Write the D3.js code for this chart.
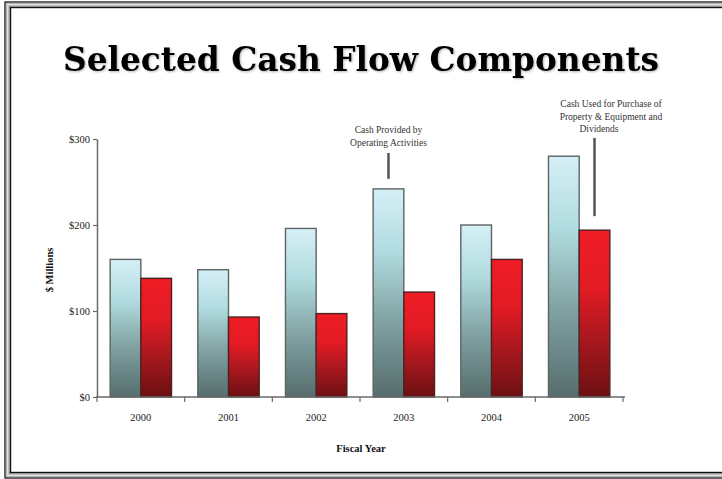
<!DOCTYPE html>
<html><head><meta charset="utf-8">
<script src="https://cdn.jsdelivr.net/npm/d3@7/dist/d3.min.js"></script>
<style>html,body{margin:0;padding:0;background:#fff;}svg{display:block;}</style>
</head><body>
<svg id="chart" width="722" height="479"></svg>
<script>
const years = ["2000","2001","2002","2003","2004","2005"];
const operating = [160, 148, 196, 242, 200, 280];
const capexDividends = [138, 93, 97, 122, 160, 194];
const yTicks = [0, 100, 200, 300];
const yTickLabels = ["$0", "$100", "$200", "$300"];
const title = "Selected Cash Flow Components";
const xTitle = "Fiscal Year";
const yTitle = "$ Millions";
const noteOperating = ["Cash Provided by", "Operating Activities"];
const noteCapex = ["Cash Used for Purchase of", "Property & Equipment and", "Dividends"];

const svg = d3.select("#chart");
const W = 722, H = 479;
svg.append("rect").attr("width", W).attr("height", H).attr("fill", "#fff");

// frame
const frame = [
  {o:0, c:"#111", w:1.3}, {o:1.6, c:"#b0b0b0", w:1.4}, {o:3, c:"#e0e0e0", w:1},
  {o:4.2, c:"#777", w:1.2}, {o:5.6, c:"#111", w:1.2}
];
frame.forEach(f => {
  svg.append("rect").attr("x", 5 + f.o).attr("y", 2 + f.o)
    .attr("width", 730 - 2*f.o).attr("height", 476 - 2*f.o)
    .attr("fill", "none").attr("stroke", f.c).attr("stroke-width", f.w);
});

const defs = svg.append("defs");
const gB = defs.append("linearGradient").attr("id","gBlue").attr("x1",0).attr("y1",0).attr("x2",0).attr("y2",1);
[[0,"#d6eff7"],[0.3,"#b0dcdf"],[0.65,"#7f9fa0"],[1,"#566d6d"]].forEach(s=>gB.append("stop").attr("offset",s[0]).attr("stop-color",s[1]));
const gR = defs.append("linearGradient").attr("id","gRed").attr("x1",0).attr("y1",0).attr("x2",0).attr("y2",1);
[[0,"#ef1c25"],[0.35,"#e21b24"],[0.7,"#a0171d"],[1,"#6c1012"]].forEach(s=>gR.append("stop").attr("offset",s[0]).attr("stop-color",s[1]));
const sh = defs.append("filter").attr("id","tshadow").attr("x","-5%").attr("y","-20%").attr("width","110%").attr("height","140%");
sh.append("feGaussianBlur").attr("in","SourceAlpha").attr("stdDeviation",1).attr("result","b");
sh.append("feOffset").attr("in","b").attr("dx",1).attr("dy",1).attr("result","o");
sh.append("feComponentTransfer").attr("in","o").attr("result","o2").append("feFuncA").attr("type","linear").attr("slope",0.3);
const m = sh.append("feMerge"); m.append("feMergeNode").attr("in","o2"); m.append("feMergeNode").attr("in","SourceGraphic");

// title
svg.append("text").attr("x", 361).attr("y", 71).attr("text-anchor","middle")
  .attr("font-family","'DejaVu Serif', serif").attr("font-weight","bold").attr("font-size", 33)
  .attr("textLength", 596).attr("lengthAdjust","spacingAndGlyphs")
  .attr("fill","#000").attr("filter","url(#tshadow)").text(title);

const x0 = d3.scaleBand().domain(years).range([97, 623]).paddingInner(0.3).paddingOuter(0.15);
const x1 = d3.scaleBand().domain(["op","cap"]).range([0, x0.bandwidth()]);
const y = d3.scaleLinear().domain([0, 300]).range([397, 139]);
const step = x0.step();

const serif = "'Liberation Serif','Times New Roman',serif";

// bars
const data = years.map((yr,i)=>({yr, op: operating[i], cap: capexDividends[i]}));
const g = svg.append("g");
data.forEach(d => {
  g.append("rect").attr("x", x0(d.yr) + x1("op")).attr("y", y(d.op))
    .attr("width", x1.bandwidth()).attr("height", y(0) - y(d.op))
    .attr("fill","url(#gBlue)").attr("stroke","#5d6464").attr("stroke-width",1.4);
  g.append("rect").attr("x", x0(d.yr) + x1("cap")).attr("y", y(d.cap))
    .attr("width", x1.bandwidth()).attr("height", y(0) - y(d.cap))
    .attr("fill","url(#gRed)").attr("stroke","#4a2222").attr("stroke-width",1.4);
});

// y axis
const yAxis = svg.append("g").attr("transform","translate(97,0)")
  .call(d3.axisLeft(y).tickValues(yTicks).tickFormat((d,i)=>yTickLabels[i]).tickSize(4).tickSizeOuter(0));
yAxis.select(".domain").attr("stroke","#6a6a6a").attr("stroke-width",1.5);
yAxis.selectAll(".tick line").attr("stroke","#6a6a6a").attr("stroke-width",1.2);
yAxis.selectAll("text").attr("font-family",serif).attr("font-size",10.5).attr("fill","#222").attr("x",-7);

// x axis
const xg = svg.append("g");
xg.append("line").attr("x1", 96).attr("x2", 625).attr("y1", y(0)).attr("y2", y(0))
  .attr("stroke","#6a6a6a").attr("stroke-width",1.5);
const bounds = years.map(yr => x0(yr) - step * x0.paddingOuter()).concat([x0(years[years.length-1]) - step*x0.paddingOuter() + step]);
bounds.forEach(bx => xg.append("line").attr("x1",bx).attr("x2",bx).attr("y1",y(0)).attr("y2",y(0)+5)
  .attr("stroke","#6a6a6a").attr("stroke-width",1.2));
years.forEach(yr => xg.append("text").attr("x", x0(yr) + x0.bandwidth()/2).attr("y", 421)
  .attr("text-anchor","middle").attr("font-family",serif).attr("font-size",10.5).attr("fill","#222").text(yr));

// axis titles
svg.append("text").attr("x", 361).attr("y", 452).attr("text-anchor","middle")
  .attr("font-family",serif).attr("font-weight","bold").attr("font-size",10.5).attr("fill","#111").text(xTitle);
svg.append("text").attr("transform","translate(53,270) rotate(-90)").attr("text-anchor","middle")
  .attr("font-family",serif).attr("font-weight","bold").attr("font-size",10.5).attr("fill","#111").text(yTitle);

// annotations
const opX = x0("2003") + x1("op") + x1.bandwidth()/2;
svg.append("line").attr("x1",opX).attr("x2",opX).attr("y1",153).attr("y2",y(operating[3]) - 10)
  .attr("stroke","#555").attr("stroke-width",2.5);
noteOperating.forEach((t,i)=>svg.append("text").attr("x", opX).attr("y", 133 + i*13)
  .attr("text-anchor","middle").attr("font-family",serif).attr("font-size",9.5).attr("fill","#333").text(t));

const cX = x0("2005") + x1("cap") + x1.bandwidth()/2;
svg.append("line").attr("x1",cX).attr("x2",cX).attr("y1",138).attr("y2",y(capexDividends[5]) - 14)
  .attr("stroke","#555").attr("stroke-width",2.5);
const capNoteX = [611, 611, 599];
noteCapex.forEach((t,i)=>svg.append("text").attr("x", capNoteX[i]).attr("y", 107 + i*12.5)
  .attr("text-anchor","middle").attr("font-family",serif).attr("font-size",9.5).attr("fill","#333").text(t));
</script>
</body></html>
